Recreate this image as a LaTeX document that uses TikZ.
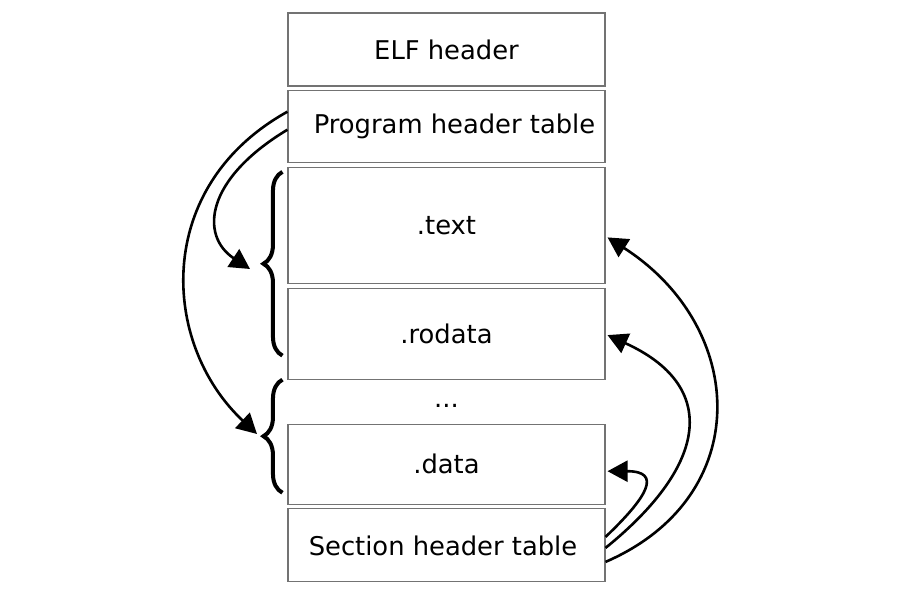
\documentclass[tikz,border=0pt]{standalone}
\usepackage{fontspec}
\setmainfont{DejaVu Sans}
\usepackage{tikz}
\usetikzlibrary{arrows.meta, positioning, decorations.pathreplacing}
\tikzstyle{block} = [rectangle, minimum width=317pt, text centered, draw=black!55, line width=1.1pt, inner sep=0pt, font=\fontsize{25.8}{31}\selectfont]
\tikzstyle{arrow} = [line width=2.6pt,-{Triangle[length=20pt,width=21pt]}]
\tikzstyle{curly} = [line width=4pt, decorate, decoration={brace, amplitude=19pt}]

\begin{document}
\begin{tikzpicture}[x=1pt, y=1pt, node distance=3.6pt]
  \fill[white] (0,0) rectangle (900,600);
  \useasboundingbox (0,0) rectangle (900,600);
  \node[block, minimum height=73pt] (elf) at (446.5,550.5) {ELF header};
  \node[block, minimum height=72pt, below=of elf] (pht) {\hspace{16pt}Program header table};
  \node[block, minimum height=116pt, below=of pht] (text) {.text};
  \node[block, minimum height=91pt, below=of text] (rodata) {.rodata};
  \node[font=\fontsize{25.8}{31}\selectfont, inner sep=0pt, below=24pt of rodata] (dots) {...};
  \node[block, minimum height=80pt, below=44pt of rodata] (data) {.data};
  \node[block, minimum height=73pt, below=of data] (sht) {\hspace{-7pt}Section header table};

  % braces on the left
  \draw[curly] ([xshift=-5pt,yshift=24pt]rodata.south west) -- ([xshift=-5pt,yshift=-5pt]text.north west);
  \draw[curly] ([xshift=-5pt,yshift=12pt]data.south west) -- ([xshift=-5pt,yshift=44pt]data.north west);
  \coordinate (segtext) at (250,331);
  \coordinate (segdata) at (257,166);

  % program header entries
  \draw[arrow] ([yshift=-3pt]pht.west) .. controls +(-83,-50) and +(-50,33) .. (segtext);
  \draw[arrow] ([yshift=15pt]pht.west) .. controls +(-135,-75) and +(-96,90) .. (segdata);

  % section header entries
  \draw[arrow] ([yshift=8.5pt]sht.east) .. controls +(42,40) and +(55,0) .. ([xshift=2pt,yshift=-7pt]data.east);
  \draw[arrow] ([yshift=-2.5pt]sht.east) .. controls +(105,85) and +(110,-50) .. ([xshift=2pt,yshift=-1.5pt]rodata.east);
  \draw[arrow] ([yshift=-16.5pt]sht.east) .. controls +(150,65) and +(140,-90) .. ([xshift=2pt,yshift=-12pt]text.east);
\end{tikzpicture}
\end{document}
